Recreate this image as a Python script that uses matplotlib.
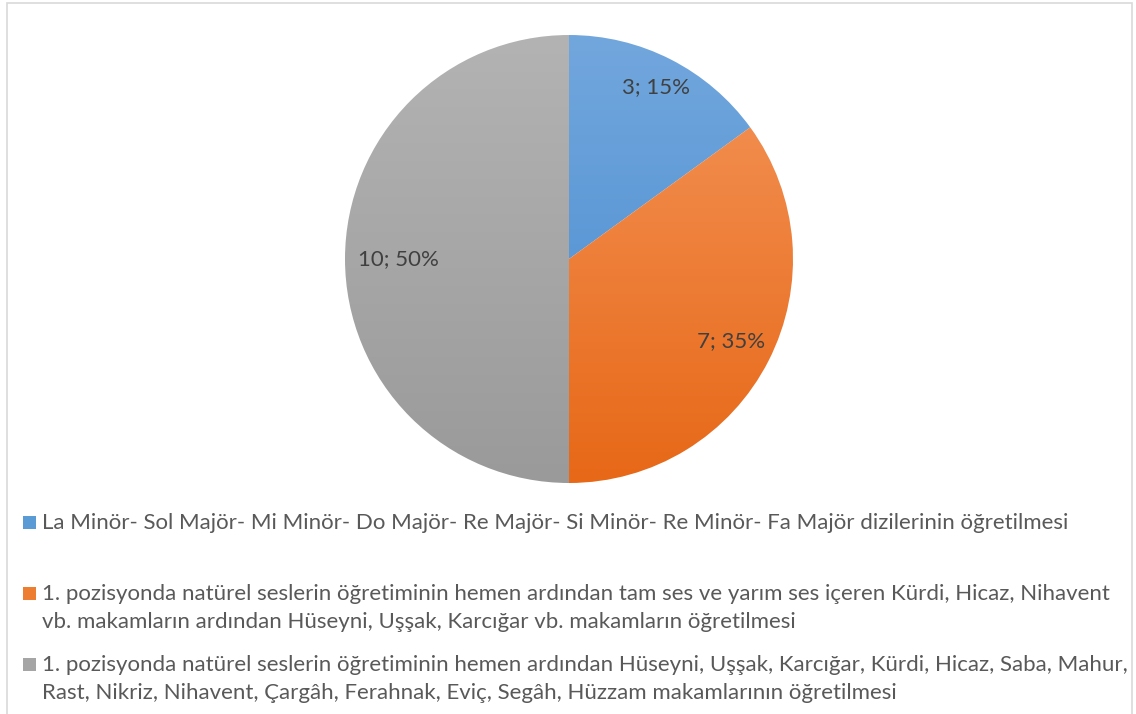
import matplotlib.pyplot as plt
import numpy as np
from matplotlib.patches import Rectangle
from matplotlib.colors import LinearSegmentedColormap

# data
counts = [3, 7, 10]
percents = [15, 35, 50]
labels = [
    "La Minör- Sol Majör- Mi Minör- Do Majör- Re Majör- Si Minör- Re Minör- Fa Majör dizilerinin öğretilmesi",
    "1. pozisyonda natürel seslerin öğretiminin hemen ardından tam ses ve yarım ses içeren Kürdi, Hicaz, Nihavent\n"
    "vb. makamların ardından Hüseyni, Uşşak, Karcığar vb. makamların öğretilmesi",
    "1. pozisyonda natürel seslerin öğretiminin hemen ardından Hüseyni, Uşşak, Karcığar, Kürdi, Hicaz, Saba, Mahur,\n"
    "Rast, Nikriz, Nihavent, Çargâh, Ferahnak, Eviç, Segâh, Hüzzam makamlarının öğretilmesi",
]
# gradient colours (top, bottom) per slice
grad = [("#72a7dd", "#4589cf"), ("#f4955a", "#e76817"), ("#b3b3b3", "#9a9a9a")]
legend_colors = ["#5b9bd5", "#ed7d31", "#a5a5a5"]

plt.rcParams['font.family'] = ['Lato', 'DejaVu Sans']

W, H = 1136, 714
fig = plt.figure(figsize=(W / 100, H / 100), dpi=100)

# chart border
fig.patches.append(Rectangle((7 / W, -0.01), 1125 / W, (714 - 3) / H + 0.01,
                             transform=fig.transFigure, fill=False,
                             edgecolor="#d9d9d9", linewidth=1.2))

cx, cy, rpx = 569, 259, 224
half = 232
ax = fig.add_axes([(cx - half) / W, (H - cy - half) / H, 2 * half / W, 2 * half / H])

wedges, _ = ax.pie(counts, startangle=90, counterclock=False, radius=1,
                   colors=["none"] * 3, wedgeprops=dict(linewidth=0))

yy = np.linspace(1, 0, 256).reshape(-1, 1)
for w, (top, bot) in zip(wedges, grad):
    cmap = LinearSegmentedColormap.from_list("g", [bot, top])
    im = ax.imshow(yy, cmap=cmap, extent=(-1, 1, -1, 1), aspect="auto",
                   vmin=0, vmax=1, zorder=1, interpolation="bilinear")
    im.set_clip_path(w)

lim = half / rpx
ax.set_xlim(-lim, lim)
ax.set_ylim(-lim, lim)
ax.set_aspect("equal")
ax.axis("off")

label_r = [0.86, 0.81, 0.76]
for w, c, p, r in zip(wedges, counts, percents, label_r):
    mid = np.deg2rad((w.theta1 + w.theta2) / 2)
    ax.text(r * np.cos(mid), r * np.sin(mid), f"{c}; {p}%", ha="center", va="center",
            fontsize=16, color="#404040", zorder=5)

# legend
leg_base = [529, 600, 671]
for y, lab, col in zip(leg_base, labels, legend_colors):
    fig.patches.append(Rectangle((23 / W, (H - y) / H), 13 / W, 13 / H,
                                 transform=fig.transFigure, facecolor=col,
                                 edgecolor="none"))
    for i, line in enumerate(lab.split("\n")):
        fig.text(42 / W, (H - y - 28 * i) / H, line, ha="left", va="baseline",
                 fontsize=16, color="#595959")

fig.savefig("out.png", dpi=100)
